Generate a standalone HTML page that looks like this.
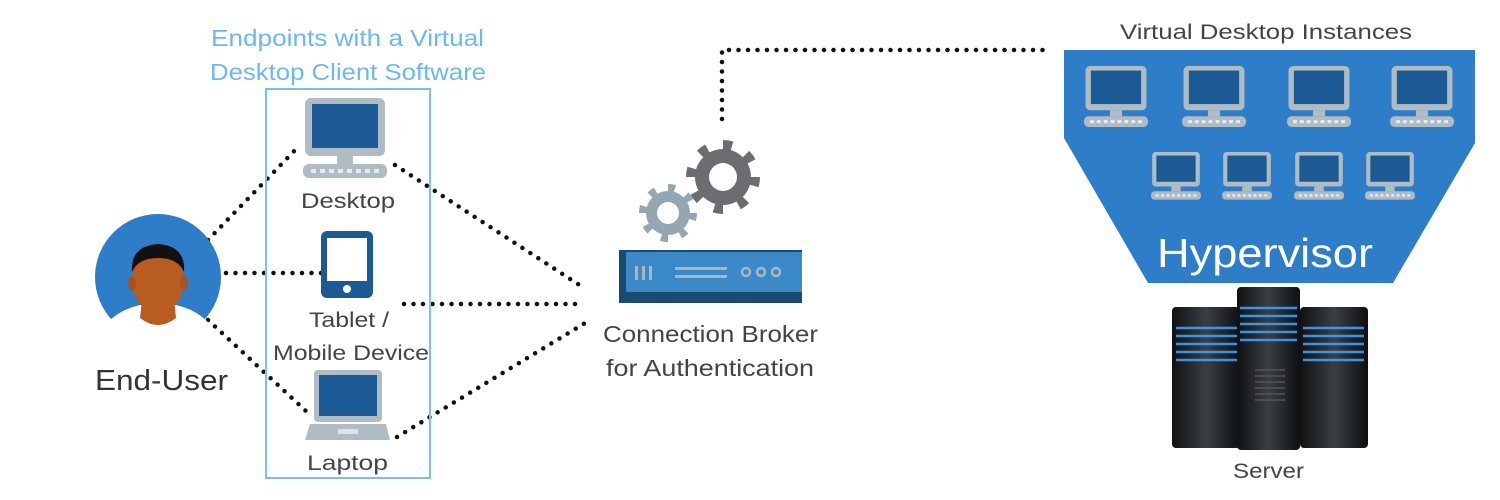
<!DOCTYPE html>
<html><head><meta charset="utf-8"><style>
html,body{margin:0;padding:0;background:#fff;width:1500px;height:500px;overflow:hidden}
text{font-family:"Liberation Sans",sans-serif}
</style></head><body>
<svg width="1500" height="500" viewBox="0 0 1500 500" xmlns="http://www.w3.org/2000/svg">
<defs>
<symbol id="mon" viewBox="0 0 84 84">
<rect x="2" y="0" width="80" height="58" rx="6" fill="#b0bcc4"/>
<rect x="9" y="6" width="66" height="44" fill="#1b5a94"/>
<rect x="34" y="58" width="16" height="8" fill="#b0bcc4"/>
<rect x="0" y="66" width="84" height="14" rx="6" fill="#b0bcc4"/>
<g fill="#fff" opacity="0.7"><rect x="8" y="71" width="5" height="4"/><rect x="17" y="71" width="5" height="4"/><rect x="26" y="71" width="5" height="4"/><rect x="35" y="71" width="5" height="4"/><rect x="44" y="71" width="5" height="4"/><rect x="53" y="71" width="5" height="4"/><rect x="62" y="71" width="5" height="4"/><rect x="71" y="71" width="5" height="4"/></g>
</symbol>
<linearGradient id="tw" x1="0" x2="1"><stop offset="0" stop-color="#111"/><stop offset="0.5" stop-color="#3a3f44"/><stop offset="1" stop-color="#0d0f12"/></linearGradient>
</defs>

<g stroke="#111" stroke-width="4.5" stroke-linecap="round" stroke-dasharray="0 9.5" fill="none">
<path d="M208 240 L300 145"/>
<path d="M226 273 L322 273"/>
<path d="M208 320 L307 412"/>
<path d="M395 165 L584 288"/>
<path d="M404 304 L576 304"/>
<path d="M397 437 L590 320"/>
<path d="M722 119 L722 50 L1046 50"/>
</g>

<rect x="266" y="89" width="164" height="389" fill="none" stroke="#7cc0f0" stroke-width="2"/>
<text x="211" y="46" font-size="23" fill="#6cb8f0" textLength="273" lengthAdjust="spacingAndGlyphs">Endpoints with a Virtual</text>
<text x="210" y="80" font-size="23" fill="#6cb8f0" textLength="276" lengthAdjust="spacingAndGlyphs">Desktop Client Software</text>

<circle cx="158" cy="277" r="63" fill="#2d7dc8"/>
<path d="M100 335 Q110 312 140 305 L176 305 Q206 312 216 335 Q190 348 158 348 Q126 348 100 335Z" fill="#fff"/>
<path d="M142 300 L174 300 L176 318 Q158 332 140 318Z" fill="#b85c22"/>
<ellipse cx="158" cy="281" rx="26" ry="32" fill="#b85c22"/>
<ellipse cx="132" cy="283" rx="4" ry="7" fill="#a85220"/>
<ellipse cx="184" cy="283" rx="4" ry="7" fill="#a85220"/>
<path d="M132 272 Q130 246 158 244 Q186 246 184 272 Q178 258 158 258 Q138 258 132 272Z" fill="#111"/>
<text x="95" y="390" font-size="29" fill="#333" textLength="133" lengthAdjust="spacingAndGlyphs">End-User</text>

<use href="#mon" x="303" y="98" width="84" height="84"/>
<text x="301" y="208" font-size="21" fill="#444" textLength="94" lengthAdjust="spacingAndGlyphs">Desktop</text>
<rect x="321" y="231" width="52" height="67" rx="6" fill="#1b5a94"/>
<rect x="327" y="238" width="40" height="43" fill="#fff"/>
<circle cx="347" cy="289" r="4" fill="#fff"/>
<text x="309" y="327" font-size="21" fill="#444" textLength="80" lengthAdjust="spacingAndGlyphs">Tablet /</text>
<text x="273" y="360" font-size="21" fill="#444" textLength="156" lengthAdjust="spacingAndGlyphs">Mobile Device</text>
<rect x="314" y="370" width="68" height="52" rx="4" fill="#b0bcc4"/>
<rect x="319" y="375" width="58" height="41" fill="#1b5a94"/>
<path d="M310 424 L386 424 L390 440 L305 440Z" fill="#b0bcc4"/>
<rect x="338" y="429" width="20" height="5" fill="#dde3e7"/>
<text x="307" y="470" font-size="21" fill="#444" textLength="81" lengthAdjust="spacingAndGlyphs">Laptop</text>

<g>
<circle cx="723" cy="177" r="32" fill="none" stroke="#6b6d70" stroke-width="10" stroke-dasharray="9 16.1"/>
<circle cx="723" cy="177" r="28" fill="#6b6d70"/>
<circle cx="723" cy="177" r="14" fill="#fff"/>
<circle cx="668" cy="213" r="25" fill="none" stroke="#95a6b2" stroke-width="8" stroke-dasharray="7 12.6"/>
<circle cx="668" cy="213" r="22" fill="#95a6b2"/>
<circle cx="668" cy="213" r="11" fill="#fff"/>
</g>
<rect x="619" y="250" width="183" height="53" fill="#1a4a70"/>
<rect x="626" y="252" width="176" height="40" fill="#3a88c6"/>
<g fill="#a8b6c0"><rect x="635" y="266" width="3" height="14"/><rect x="642" y="266" width="3" height="14"/><rect x="649" y="266" width="3" height="14"/>
<rect x="675" y="267" width="52" height="3"/><rect x="675" y="275" width="52" height="3"/></g>
<g fill="none" stroke="#a8b6c0" stroke-width="2.5"><circle cx="746" cy="272" r="4"/><circle cx="761" cy="272" r="4"/><circle cx="776" cy="272" r="4"/></g>
<text x="603" y="342" font-size="23" fill="#444" textLength="215" lengthAdjust="spacingAndGlyphs">Connection Broker</text>
<text x="606" y="376" font-size="23" fill="#444" textLength="208" lengthAdjust="spacingAndGlyphs">for Authentication</text>

<text x="1120" y="39" font-size="21" fill="#444" textLength="292" lengthAdjust="spacingAndGlyphs">Virtual Desktop Instances</text>
<path d="M1064 50 L1475 50 L1475 143 L1393 283 L1148 283 L1064 138Z" fill="#2d7dc8"/>
<use href="#mon" x="1084" y="66" width="64" height="64"/>
<use href="#mon" x="1182" y="66" width="64" height="64"/>
<use href="#mon" x="1287" y="66" width="64" height="64"/>
<use href="#mon" x="1390" y="66" width="64" height="64"/>
<use href="#mon" x="1151" y="152" width="50" height="50"/>
<use href="#mon" x="1222" y="152" width="50" height="50"/>
<use href="#mon" x="1294" y="152" width="50" height="50"/>
<use href="#mon" x="1365" y="152" width="50" height="50"/>
<text x="1157" y="267" font-size="41" fill="#fff" textLength="216" lengthAdjust="spacingAndGlyphs">Hypervisor</text>

<rect x="1172" y="307" width="68" height="141" rx="4" fill="url(#tw)"/>
<rect x="1300" y="307" width="68" height="141" rx="4" fill="url(#tw)"/>
<rect x="1237" y="287" width="63" height="163" rx="4" fill="url(#tw)"/>
<g stroke="#3aa0ff" stroke-width="2.5" opacity="0.9">
<path d="M1176 328 H1237 M1176 336 H1237 M1176 344 H1237 M1176 352 H1237 M1176 360 H1237"/>
<path d="M1303 328 H1364 M1303 336 H1364 M1303 344 H1364 M1303 352 H1364 M1303 360 H1364"/>
<path d="M1240 308 H1297 M1240 316 H1297 M1240 324 H1297 M1240 332 H1297 M1240 340 H1297"/>
</g>
<g stroke="#555" stroke-width="1.5"><path d="M1255 370 H1285 M1255 376 H1285 M1255 382 H1285 M1255 388 H1285 M1255 394 H1285 M1255 400 H1285"/></g>
<text x="1233" y="478" font-size="21" fill="#444" textLength="71" lengthAdjust="spacingAndGlyphs">Server</text>
</svg>
</body></html>
